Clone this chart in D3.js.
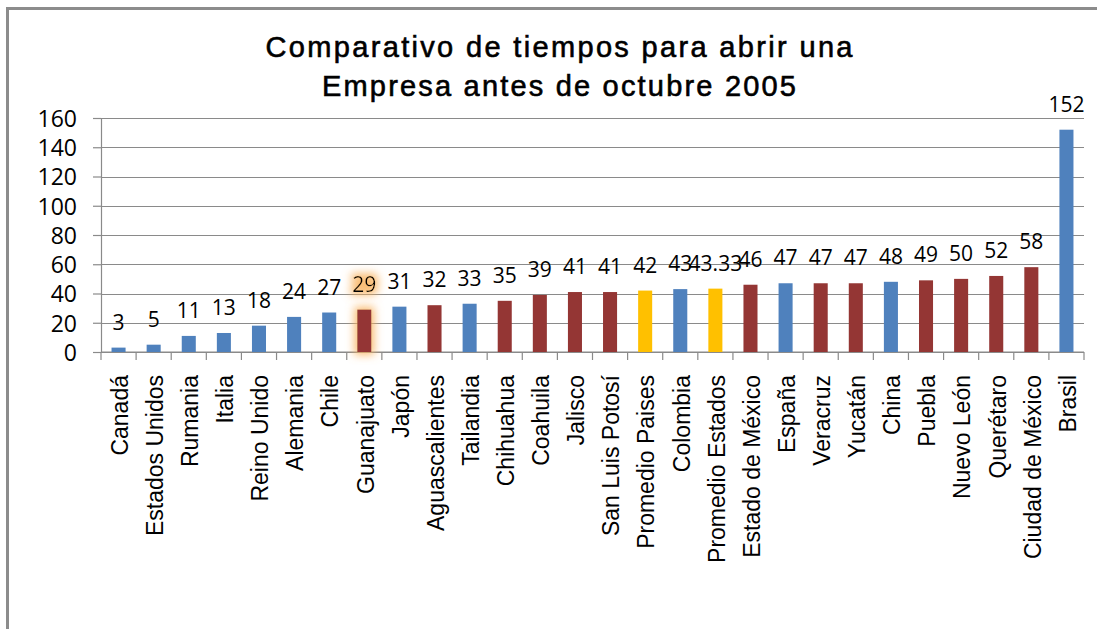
<!DOCTYPE html>
<html lang="es">
<head>
<meta charset="UTF-8">
<title>Comparativo de tiempos para abrir una Empresa</title>
<script src="https://d3js.org/d3.v7.min.js"></script>
<style>
  html, body { margin: 0; padding: 0; background: #fff; overflow: hidden; }
  .title { font-family: "Liberation Sans", Arial, sans-serif; font-size: 29px; fill: #000;
           stroke: #000; stroke-width: 0.6px; }
  .y-axis text { font-family: "Open Sans", sans-serif; font-size: 23px; fill: #000; }
  .x-label { font-family: "Liberation Sans", Arial, sans-serif; font-size: 23px; fill: #000; }
  .value { font-family: "Open Sans", sans-serif; font-size: 21px; fill: #000; }
  .grid line { stroke: #8a8a8a; stroke-width: 1.2; }
</style>
</head>
<body>
<div id="chart"></div>
<script>
// Data
const categories = [
  "Canadá", "Estados Unidos", "Rumania", "Italia", "Reino Unido", "Alemania",
  "Chile", "Guanajuato", "Japón", "Aguascalientes", "Tailandia", "Chihuahua",
  "Coahuila", "Jalisco", "San Luis Potosí", "Promedio Paises", "Colombia",
  "Promedio Estados", "Estado de México", "España", "Veracruz", "Yucatán",
  "China", "Puebla", "Nuevo León", "Querétaro", "Ciudad de México", "Brasil"
];
const values = [3, 5, 11, 13, 18, 24, 27, 29, 31, 32, 33, 35, 39, 41, 41, 42, 43,
  43.33, 46, 47, 47, 47, 48, 49, 50, 52, 58, 152];
// p = país, e = estado, m = promedio
const groups = ["p", "p", "p", "p", "p", "p", "p", "e", "p", "e", "p", "e", "e", "e",
  "e", "m", "p", "m", "e", "p", "e", "e", "p", "e", "e", "e", "e", "p"];
const yTicks = [0, 20, 40, 60, 80, 100, 120, 140, 160];
const highlighted = "Guanajuato";
const titleLines = ["Comparativo de tiempos para abrir una", "Empresa antes de octubre 2005"];

const colors = { p: "#4F81BD", e: "#943634", m: "#FFC000" };

const width = 1097, height = 629;
const margin = { top: 118, right: 13, bottom: 277, left: 101 };
const innerWidth = width - margin.left - margin.right;
const innerHeight = height - margin.top - margin.bottom;

const svg = d3.select("#chart").append("svg")
  .attr("width", width).attr("height", height);

// glow filter for the highlighted state
const defs = svg.append("defs");
const glow = defs.append("filter").attr("id", "glow")
  .attr("x", "-100%").attr("y", "-50%").attr("width", "300%").attr("height", "200%");
glow.append("feMorphology").attr("in", "SourceAlpha").attr("operator", "dilate")
  .attr("radius", 3).attr("result", "thick");
glow.append("feGaussianBlur").attr("in", "thick").attr("stdDeviation", 4).attr("result", "blur");
glow.append("feFlood").attr("flood-color", "#F9B35F").attr("flood-opacity", 0.85);
glow.append("feComposite").attr("in2", "blur").attr("operator", "in").attr("result", "glowColor");
const merge = glow.append("feMerge");
merge.append("feMergeNode").attr("in", "glowColor");
merge.append("feMergeNode").attr("in", "SourceGraphic");

// outer frame (only left and top edges are visible)
svg.append("path")
  .attr("d", `M7.5,${height} V8.5 H${width}`)
  .attr("fill", "none").attr("stroke", "#8c8c8c").attr("stroke-width", 3);

// title
svg.selectAll(".title").data(titleLines).enter().append("text")
  .attr("class", "title")
  .attr("x", 559)
  .attr("y", (d, i) => 57 + i * 39)
  .attr("text-anchor", "middle")
  .attr("textLength", (d, i) => i === 0 ? 587 : 474)
  .attr("lengthAdjust", "spacing")
  .text(d => d);

const g = svg.append("g").attr("transform", `translate(${margin.left},${margin.top})`);

const x = d3.scaleBand().domain(categories).range([0, innerWidth]).paddingInner(0.6).paddingOuter(0.3);
const y = d3.scaleLinear().domain([0, 160]).range([innerHeight, 0]);
const step = x.step();

// gridlines
g.append("g").attr("class", "grid")
  .selectAll("line").data(yTicks).enter().append("line")
  .attr("x1", 0).attr("x2", innerWidth)
  .attr("y1", d => Math.round(y(d)) + 0.5).attr("y2", d => Math.round(y(d)) + 0.5);

// y axis
const yAxis = g.append("g").attr("class", "y-axis")
  .call(d3.axisLeft(y).tickValues(yTicks).tickSize(8).tickPadding(16));
yAxis.select(".domain").attr("stroke", "#8a8a8a").attr("stroke-width", 1.2);
yAxis.selectAll(".tick line").attr("stroke", "#8a8a8a").attr("stroke-width", 1.2);
yAxis.selectAll(".tick text").attr("dy", "0.36em");

// x axis baseline + ticks at band boundaries
const xAxis = g.append("g").attr("transform", `translate(0,${innerHeight})`);
xAxis.append("line").attr("x1", 0).attr("x2", innerWidth)
  .attr("stroke", "#8a8a8a").attr("stroke-width", 1.2);
xAxis.selectAll(".xt").data(d3.range(categories.length + 1)).enter().append("line")
  .attr("x1", i => i * step).attr("x2", i => i * step)
  .attr("y1", 0).attr("y2", 8)
  .attr("stroke", "#8a8a8a").attr("stroke-width", 1.2);

// x labels
xAxis.selectAll(".x-label").data(categories).enter().append("text")
  .attr("class", "x-label")
  .attr("transform", d => `translate(${x(d) + x.bandwidth() / 2 + 1},23) rotate(-90)`)
  .attr("text-anchor", "end")
  .attr("dy", "0.36em")
  .text(d => d);

// bars
const rows = categories.map((c, i) => ({ c, v: values[i], grp: groups[i] }));
g.selectAll(".bar").data(rows).enter().append("rect")
  .attr("class", "bar")
  .attr("x", d => x(d.c))
  .attr("y", d => y(d.v))
  .attr("width", x.bandwidth())
  .attr("height", d => innerHeight - y(d.v))
  .attr("fill", d => colors[d.grp])
  .attr("filter", d => d.c === highlighted ? "url(#glow)" : null);

// value labels
g.selectAll(".value").data(rows).enter().append("text")
  .attr("class", "value")
  .attr("x", d => x(d.c) + x.bandwidth() / 2)
  .attr("y", d => y(d.v) - 18)
  .attr("text-anchor", "middle")
  .attr("filter", d => d.c === highlighted ? "url(#glow)" : null)
  .text(d => d.v);
</script>
</body>
</html>
